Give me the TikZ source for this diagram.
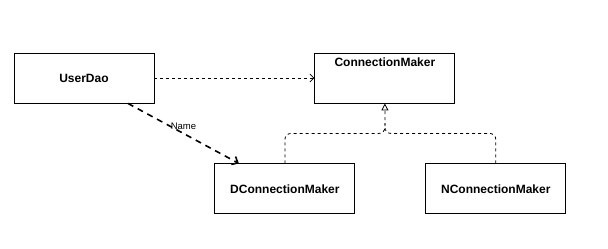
\documentclass[tikz,border=0pt]{standalone}
\usepackage{fontspec}
\setmainfont{Liberation Sans}
\usepackage{tikz}
\usetikzlibrary{arrows.meta,positioning}

\begin{document}
\begin{tikzpicture}[
  node distance=60pt,
  klass/.style={rectangle, draw, line width=0.9pt, minimum width=140pt, minimum height=50pt, text centered, font=\fontsize{12}{14}\selectfont\bfseries},
  depends/.style={dashed, dash pattern=on 3pt off 3pt, line width=0.8pt, -{Straight Barb[length=4pt,width=8pt]}},
  named/.style={dash pattern=on 6pt off 5pt, line width=1.6pt, -{Straight Barb[length=5pt,width=9pt]}},
  realize/.style={dash pattern=on 3pt off 3pt, line width=0.8pt, rounded corners=6pt},
  tag/.style={font=\fontsize{9.5}{11}\selectfont}
]
\useasboundingbox (0,0) rectangle (608pt,-249pt);
\node[klass] (ud) at (84pt,-78pt) {UserDao};
\node[klass, right=160pt of ud, label={[anchor=north, yshift=-2pt, font=\fontsize{12}{14}\selectfont\bfseries]north:ConnectionMaker}] (cm) {};
\node[klass, below=60pt of cm, xshift=-100pt] (dcm) {DConnectionMaker};
\node[klass, right=70pt of dcm] (ncm) {NConnectionMaker};
\coordinate (j) at ([yshift=-30pt]cm.south);
% dependency
\draw[depends] (ud) -- (cm);
\draw[named] ([xshift=44pt]ud.south) -- ([xshift=-46pt]dcm.north) node[tag, midway, above]{Name};
% realization
\draw[realize] (ncm.north) |- (j) -- ([yshift=10pt]j);
\draw[realize, -{Triangle[open, length=7pt, width=7pt]}] (dcm.north) |- (j) -- (cm.south);
\end{tikzpicture}
\end{document}
